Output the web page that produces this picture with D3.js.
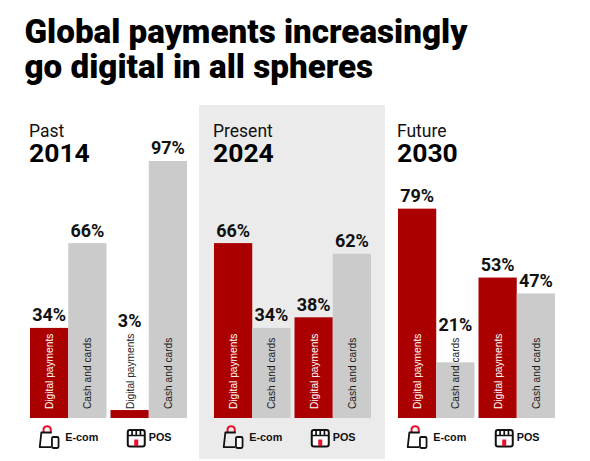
<!DOCTYPE html>
<html>
<head>
<meta charset="utf-8">
<script src="https://cdn.jsdelivr.net/npm/d3@7/dist/d3.min.js"></script>
<style>
  html, body { margin: 0; padding: 0; background: #fff; }
  svg { display: block; }
</style>
</head>
<body>
<script>
// ---- Data ----
const periods = ["Past", "Present", "Future"];
const years = ["2014", "2024", "2030"];
const channels = ["E-com", "POS"];
const types = ["Digital payments", "Cash and cards"];
const ecomDigital = [34, 66, 79];
const ecomCash = [66, 34, 21];
const posDigital = [3, 38, 53];
const posCash = [97, 62, 47];
const titleLines = ["Global payments increasingly", "go digital in all spheres"];
const highlightPeriod = "Present";

// ---- Build rows ----
const rows = [];
periods.forEach((p, i) => {
  rows.push({period: p, channel: "E-com", type: types[0], value: ecomDigital[i]});
  rows.push({period: p, channel: "E-com", type: types[1], value: ecomCash[i]});
  rows.push({period: p, channel: "POS", type: types[0], value: posDigital[i]});
  rows.push({period: p, channel: "POS", type: types[1], value: posCash[i]});
});

const W = 590, H = 461;
const RED = "#aa0000", GRAY = "#cbcbcb", PANEL = "#ebebeb";

const svg = d3.select("body").append("svg").attr("width", W).attr("height", H);

const x0 = d3.scaleBand().domain(periods).range([30, 555]).paddingInner(0.1467);
const x1 = d3.scaleBand().domain(channels).range([0, x0.bandwidth()]).paddingInner(0.05);
const x2 = d3.scaleBand().domain(types).range([0, x1.bandwidth()]);
const y = d3.scaleLinear().domain([0, 100]).range([418, 153]);
const color = d3.scaleOrdinal().domain(types).range([RED, GRAY]);

// Highlight panel
svg.append("rect")
  .attr("x", x0(highlightPeriod) - 15)
  .attr("y", 105)
  .attr("width", x0.bandwidth() + 29)
  .attr("height", 354)
  .attr("fill", PANEL);

// Title
const title = svg.append("g");
titleLines.forEach((t, i) => {
  title.append("text")
    .attr("x", 24.5).attr("y", 43 + i * 35.3)
    .attr("font-family", "Roboto, sans-serif")
    .attr("font-weight", 900)
    .attr("font-size", 28)
    .attr("fill", "#000")
    .text(t);
});
// fit first line width to ~443px
const t0 = title.select("text").node();
const len = t0.getComputedTextLength();
const fs = 28 * 443 / len;
title.selectAll("text").attr("font-size", fs);

// Period headers
const hdr = svg.selectAll("g.hdr").data(periods).enter().append("g").attr("class", "hdr");
hdr.append("text")
  .attr("x", d => x0(d) - 1)
  .attr("y", 137)
  .attr("font-family", "Roboto, sans-serif")
  .attr("font-size", 17.5)
  .attr("fill", "#111")
  .text(d => d);
hdr.append("text")
  .attr("x", d => x0(d) - 1)
  .attr("y", 162)
  .attr("font-family", "Roboto, sans-serif")
  .attr("font-weight", 700)
  .attr("font-size", 26.5)
  .attr("fill", "#000")
  .text((d, i) => years[i]);

const bx = d => x0(d.period) + x1(d.channel) + x2(d.type);

// Bars
svg.selectAll("rect.bar").data(rows).enter().append("rect")
  .attr("class", "bar")
  .attr("x", bx)
  .attr("y", d => y(d.value))
  .attr("width", x2.bandwidth())
  .attr("height", d => y(0) - y(d.value))
  .attr("fill", d => color(d.type));

// Rotated labels
const labStart = y(0) - 9;
const labs = svg.selectAll("text.lab").data(rows).enter().append("text")
  .attr("class", "lab")
  .attr("transform", d => `translate(${bx(d) + x2.bandwidth() / 2 + 0.5},${labStart}) rotate(-90)`)
  .attr("dy", "0.35em")
  .attr("font-family", "'Liberation Sans', Arial, sans-serif")
  .attr("font-size", 10.2)
  .attr("fill", d => (d.type === types[0] && (y(0) - y(d.value)) > 60) ? "#fff" : "#1a1a1a")
  .text(d => d.type);
labs.each(function(d) { d.labTop = labStart - this.getComputedTextLength(); });

// Value labels (above the bar, or above the rotated label if it sticks out)
svg.selectAll("text.val").data(rows).enter().append("text")
  .attr("class", "val")
  .attr("x", d => bx(d) + x2.bandwidth() / 2)
  .attr("y", d => Math.min(y(d.value), d.labTop) - 6.5)
  .attr("text-anchor", "middle")
  .attr("font-family", "Roboto, sans-serif")
  .attr("font-weight", 700)
  .attr("font-size", 18)
  .attr("fill", "#111")
  .text(d => d.value + "%");

// Channel icons + labels
const chData = [];
periods.forEach(p => channels.forEach(c => chData.push({period: p, channel: c})));
const ch = svg.selectAll("g.ch").data(chData).enter().append("g")
  .attr("class", "ch")
  .attr("transform", d => {
    const cx = x0(d.period) + x1(d.channel) + x1.bandwidth() / 2;
    return `translate(${cx},0)`;
  });

ch.each(function(d) {
  const g = d3.select(this);
  if (d.channel === "E-com") {
    const ic = g.append("g").attr("transform", "translate(-29.5,426)");
    ic.append("path").attr("d", "M4.8,6.5 V3.2 A3.6,3 0 0 1 12,3.2 V6.5")
      .attr("fill", "none").attr("stroke", "#e8102a").attr("stroke-width", 2);
    ic.append("path").attr("d", "M13,6.5 H2.6 L1,21.2 H12.5")
      .attr("fill", "none").attr("stroke", "#111").attr("stroke-width", 1.8).attr("stroke-linejoin", "round");
    ic.append("rect").attr("x", 13.2).attr("y", 11).attr("width", 6.6).attr("height", 11)
      .attr("rx", 1.4).attr("fill", "#fff").attr("stroke", "#111").attr("stroke-width", 1.8);
    g.append("text").attr("x", -3).attr("y", 441)
      .attr("font-family", "'Liberation Sans', Arial, sans-serif")
      .attr("font-weight", 700).attr("font-size", 10.8).attr("fill", "#111")
      .text(d.channel);
  } else {
    const ic = g.append("g").attr("transform", "translate(-22,429)");
    ic.append("rect").attr("x", 1).attr("y", 1).attr("width", 17).attr("height", 16.5)
      .attr("rx", 2.2).attr("fill", "#fff").attr("stroke", "#111").attr("stroke-width", 2);
    ic.append("path").attr("d", "M1,6.5 H18 M5.3,1 V6.5 M9.5,1 V6.5 M13.7,1 V6.5")
      .attr("fill", "none").attr("stroke", "#111").attr("stroke-width", 1.7);
    ic.append("rect").attr("x", 7.5).attr("y", 10.5).attr("width", 4).attr("height", 6.5)
      .attr("fill", "#e8102a");
    g.append("text").attr("x", 0).attr("y", 441)
      .attr("font-family", "'Liberation Sans', Arial, sans-serif")
      .attr("font-weight", 700).attr("font-size", 10.8).attr("fill", "#111")
      .text(d.channel);
  }
});
</script>
</body>
</html>
